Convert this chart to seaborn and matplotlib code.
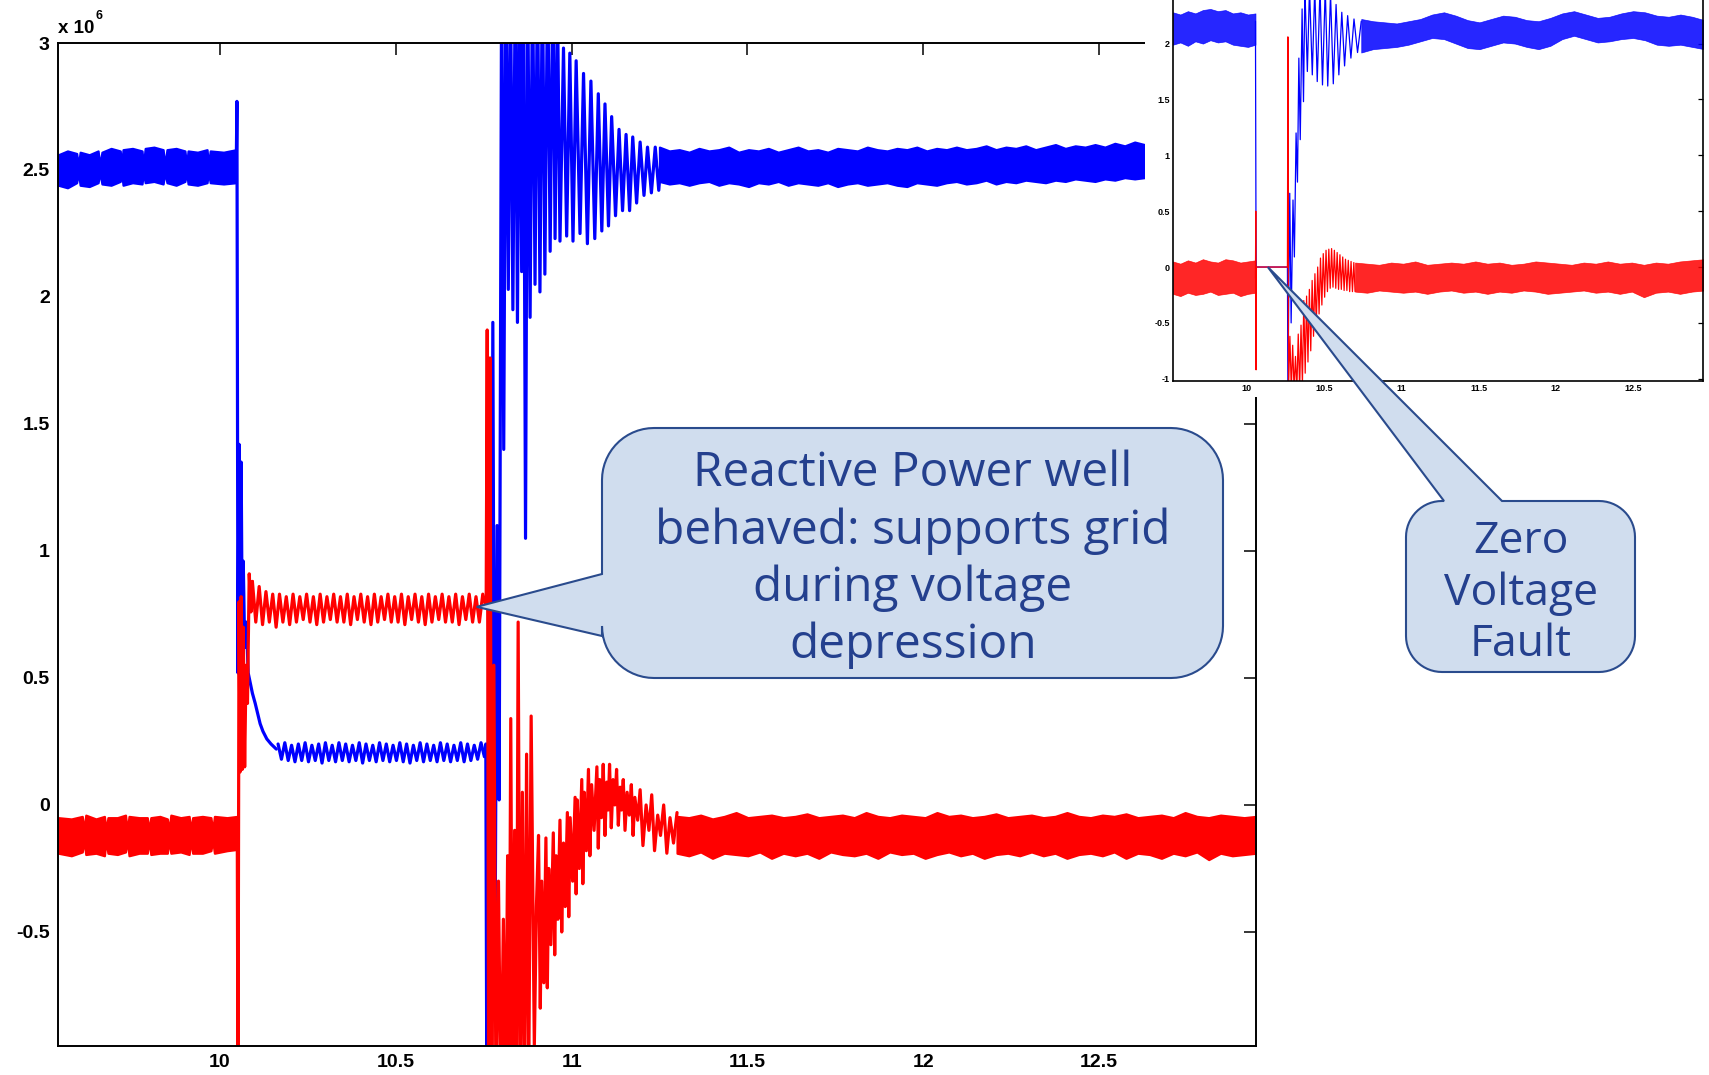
import matplotlib
matplotlib.use("Agg")
import matplotlib.pyplot as plt
from matplotlib.patches import Polygon, Rectangle
from matplotlib.ticker import FuncFormatter
import numpy as np
import seaborn as sns

# ---------------- main plot data (x 1e6, time in s) ----------------
BLUE_PRE_T = [9.540, 9.566, 9.592, 9.597, 9.602, 9.628, 9.653, 9.658, 9.664, 9.690,
              9.716, 9.720, 9.724, 9.751, 9.778, 9.782, 9.787, 9.812, 9.838, 9.843,
              9.849, 9.875, 9.900, 9.905, 9.909, 9.936, 9.963, 9.967, 9.972, 10.010, 10.046]
BLUE_PRE_HI = [2.56, 2.575, 2.565, 2.52, 2.57, 2.56, 2.575, 2.52, 2.57, 2.585,
               2.575, 2.52, 2.58, 2.585, 2.575, 2.52, 2.585, 2.59, 2.58, 2.52,
               2.58, 2.585, 2.575, 2.52, 2.575, 2.57, 2.58, 2.52, 2.575, 2.57, 2.58]
BLUE_PRE_LO = [2.44, 2.43, 2.45, 2.49, 2.44, 2.435, 2.45, 2.49, 2.445, 2.44,
               2.455, 2.49, 2.44, 2.45, 2.445, 2.49, 2.45, 2.455, 2.445, 2.49,
               2.45, 2.44, 2.455, 2.49, 2.445, 2.44, 2.45, 2.49, 2.45, 2.445, 2.45]

RED_PRE_T = [9.540, 9.577, 9.608, 9.613, 9.618, 9.647, 9.671, 9.676, 9.681, 9.708,
             9.731, 9.736, 9.741, 9.770, 9.793, 9.798, 9.803, 9.829, 9.850, 9.855,
             9.860, 9.888, 9.912, 9.917, 9.922, 9.950, 9.974, 9.979, 9.984, 10.020, 10.049]
RED_PRE_HI = [-0.05, -0.055, -0.045, -0.10, -0.04, -0.055, -0.045, -0.10, -0.05, -0.05,
              -0.04, -0.10, -0.045, -0.05, -0.05, -0.10, -0.05, -0.045, -0.055, -0.10,
              -0.04, -0.05, -0.045, -0.10, -0.05, -0.045, -0.05, -0.10, -0.045, -0.05, -0.045]
RED_PRE_LO = [-0.19, -0.20, -0.185, -0.14, -0.195, -0.19, -0.20, -0.14, -0.19, -0.195,
              -0.185, -0.14, -0.20, -0.19, -0.19, -0.14, -0.195, -0.19, -0.19, -0.14,
              -0.19, -0.185, -0.195, -0.14, -0.19, -0.19, -0.18, -0.14, -0.19, -0.18, -0.175]

# first fault (voltage dip)
BLUE_F1_T = [10.046, 10.048, 10.051, 10.054, 10.057, 10.060, 10.063, 10.066, 10.070, 10.075,
             10.080, 10.086, 10.092, 10.100, 10.107, 10.114, 10.122, 10.133, 10.145, 10.160]
BLUE_F1_V = [2.50, 2.77, 0.52, 1.42, 0.55, 1.35, 0.70, 0.96, 0.62, 0.72,
             0.52, 0.48, 0.44, 0.40, 0.36, 0.32, 0.29, 0.26, 0.24, 0.22]
RED_F1_T = [10.049, 10.051, 10.054, 10.057, 10.060, 10.063, 10.066, 10.070, 10.074,
            10.078, 10.083, 10.088, 10.092]
RED_F1_V = [-0.12, -1.20, 0.80, 0.13, 0.82, 0.14, 0.70, 0.15, 0.55, 0.40, 0.91, 0.76, 0.88]

# during the sag (sampled evenly between start and end)
BLUE_SAG_SPAN = (10.165, 10.752)
BLUE_SAG_V = [0.24, 0.18, 0.245, 0.175, 0.235, 0.17, 0.24, 0.175, 0.245, 0.17,
              0.235, 0.175, 0.24, 0.165, 0.245, 0.175, 0.235, 0.17, 0.245, 0.175,
              0.24, 0.17, 0.235, 0.175, 0.245, 0.165, 0.24, 0.175, 0.235, 0.17,
              0.245, 0.175, 0.24, 0.17, 0.235, 0.175, 0.245, 0.17, 0.24, 0.165,
              0.235, 0.175, 0.245, 0.17, 0.24, 0.175, 0.235, 0.17, 0.245, 0.175,
              0.24, 0.17, 0.235, 0.175, 0.245, 0.17, 0.24, 0.175, 0.235, 0.18,
              0.245, 0.19]
RED_SAG_SPAN = (10.092, 10.757)
RED_SAG_V = [0.88, 0.72, 0.86, 0.71, 0.84, 0.72, 0.83, 0.70, 0.83, 0.72,
             0.82, 0.71, 0.83, 0.72, 0.82, 0.73, 0.83, 0.72, 0.82, 0.71,
             0.83, 0.72, 0.82, 0.73, 0.83, 0.72, 0.82, 0.72, 0.83, 0.71,
             0.82, 0.73, 0.83, 0.72, 0.82, 0.71, 0.83, 0.72, 0.82, 0.73,
             0.83, 0.72, 0.82, 0.72, 0.83, 0.71, 0.82, 0.73, 0.83, 0.72,
             0.82, 0.71, 0.83, 0.72, 0.82, 0.73, 0.83, 0.72, 0.82, 0.72,
             0.83, 0.71, 0.82, 0.73, 0.83, 0.72, 0.82, 0.72, 0.83, 0.78]

# recovery transient
BLUE_TR_T = [10.752, 10.756, 10.759, 10.764, 10.769, 10.776, 10.782, 10.788, 10.794, 10.801,
             10.807, 10.813, 10.820, 10.826, 10.833, 10.840, 10.846, 10.852, 10.858, 10.863,
             10.869, 10.875, 10.882, 10.889, 10.896, 10.903, 10.910, 10.917, 10.924, 10.932,
             10.939, 10.947, 10.953, 10.960, 10.967, 10.977, 10.986, 10.995, 11.004, 11.013,
             11.024, 11.034, 11.045, 11.055, 11.066, 11.076, 11.086, 11.095, 11.105, 11.114,
             11.125, 11.135, 11.145, 11.155, 11.165, 11.174, 11.185, 11.195, 11.206, 11.216,
             11.227, 11.238, 11.248, 11.255]
BLUE_TR_V = [0.20, 0.24, -1.20, 0.60, -1.20, 1.90, -0.66, 1.10, 0.02, 3.30,
             1.40, 3.30, 2.03, 3.30, 1.95, 3.30, 1.90, 3.30, 2.10, 3.30,
             1.05, 3.30, 1.92, 3.30, 2.05, 3.30, 2.02, 3.30, 2.09, 3.30,
             2.18, 3.30, 2.23, 3.15, 2.22, 2.98, 2.24, 2.96, 2.22, 2.93,
             2.25, 2.88, 2.21, 2.85, 2.23, 2.80, 2.26, 2.76, 2.28, 2.71,
             2.32, 2.66, 2.34, 2.64, 2.34, 2.63, 2.37, 2.61, 2.40, 2.59,
             2.41, 2.59, 2.42, 2.55]
RED_TR_T = [10.757, 10.760, 10.764, 10.768, 10.773, 10.779, 10.785, 10.792, 10.799, 10.806,
            10.812, 10.818, 10.822, 10.827, 10.832, 10.838, 10.843, 10.848, 10.854, 10.860,
            10.866, 10.872, 10.878, 10.885,
            10.894, 10.900, 10.906, 10.911, 10.915, 10.921, 10.927, 10.931, 10.935, 10.941,
            10.948, 10.952, 10.956, 10.961, 10.967, 10.972, 10.977, 10.982, 10.988, 10.992,
            10.996, 11.003, 11.010, 11.013, 11.016, 11.022, 11.029, 11.032, 11.036, 11.042,
            11.048, 11.052, 11.057, 11.064, 11.072, 11.076, 11.080, 11.085, 11.090, 11.095,
            11.100, 11.104, 11.108, 11.113, 11.118, 11.123, 11.128, 11.133, 11.138, 11.142,
            11.147, 11.152, 11.158, 11.164, 11.170, 11.175, 11.180, 11.188, 11.195, 11.203,
            11.212, 11.220, 11.228, 11.236, 11.245, 11.253, 11.262, 11.271, 11.280, 11.290,
            11.300]
RED_TR_V = [0.78, 1.87, -1.20, 1.76, -1.20, 0.55, -1.20, -0.30, -1.20, -0.45,
            -1.20, -0.20, -1.20, 0.34, -1.20, -0.10, -1.20, 0.72, -1.20, 0.05,
            -1.20, 0.20, -1.10, 0.35,
            -0.95, -0.40, -0.12, -0.80, -0.30, -0.70, -0.13, -0.72, -0.25, -0.55,
            -0.11, -0.59, -0.20, -0.45, -0.06, -0.50, -0.15, -0.40, -0.03, -0.44,
            -0.05, -0.30, 0.03, -0.35, 0.02, -0.25, 0.10, -0.31, 0.05, -0.18,
            0.14, -0.20, 0.08, -0.10, 0.15, -0.17, 0.10, -0.05, 0.16, -0.12,
            0.09, -0.02, 0.16, -0.09, 0.10, 0.00, 0.14, -0.08, 0.07, -0.02,
            0.10, -0.10, 0.05, -0.04, 0.08, -0.12, 0.03, -0.06, 0.06, -0.16,
            0.00, -0.10, 0.04, -0.18, -0.04, -0.12, 0.00, -0.19, -0.05, -0.15,
            -0.03]

# steady state after recovery (envelopes sampled evenly)
BLUE_POST_SPAN = (11.25, 12.63)
BLUE_POST_HI = [2.590, 2.575, 2.580, 2.570, 2.585, 2.575, 2.580, 2.590, 2.570, 2.580,
                2.575, 2.585, 2.570, 2.580, 2.590, 2.575, 2.580, 2.570, 2.585, 2.580,
                2.575, 2.590, 2.580, 2.575, 2.585, 2.580, 2.590, 2.575, 2.585, 2.580,
                2.590, 2.580, 2.585, 2.595, 2.580, 2.590, 2.585, 2.595, 2.580, 2.590,
                2.600, 2.585, 2.595, 2.590, 2.600, 2.590, 2.605, 2.595, 2.610, 2.600]
BLUE_POST_LO = [2.455, 2.445, 2.450, 2.440, 2.450, 2.455, 2.440, 2.450, 2.445, 2.435,
                2.450, 2.445, 2.455, 2.440, 2.450, 2.445, 2.440, 2.450, 2.435, 2.445,
                2.450, 2.440, 2.445, 2.450, 2.440, 2.435, 2.450, 2.445, 2.440, 2.450,
                2.455, 2.445, 2.450, 2.460, 2.445, 2.455, 2.450, 2.460, 2.455, 2.450,
                2.460, 2.455, 2.465, 2.460, 2.455, 2.465, 2.460, 2.470, 2.465, 2.470]
RED_POST_SPAN = (11.30, 12.947)
RED_POST_HI = [-0.045, -0.05, -0.04, -0.055, -0.045, -0.03, -0.05, -0.045, -0.04, -0.05,
               -0.045, -0.035, -0.05, -0.045, -0.04, -0.05, -0.03, -0.045, -0.05, -0.04,
               -0.045, -0.05, -0.03, -0.045, -0.04, -0.05, -0.045, -0.035, -0.05, -0.045,
               -0.04, -0.05, -0.045, -0.03, -0.045, -0.05, -0.04, -0.045, -0.035, -0.05,
               -0.045, -0.04, -0.05, -0.03, -0.045, -0.05, -0.04, -0.045, -0.05, -0.045]
RED_POST_LO = [-0.19, -0.20, -0.185, -0.21, -0.19, -0.195, -0.20, -0.185, -0.21, -0.19,
               -0.20, -0.19, -0.21, -0.185, -0.195, -0.20, -0.19, -0.21, -0.185, -0.195,
               -0.19, -0.21, -0.195, -0.185, -0.20, -0.19, -0.21, -0.195, -0.19, -0.20,
               -0.185, -0.20, -0.19, -0.21, -0.195, -0.19, -0.20, -0.185, -0.21, -0.19,
               -0.195, -0.21, -0.19, -0.20, -0.185, -0.215, -0.19, -0.20, -0.195, -0.19]

MAIN_XTICKS = [10, 10.5, 11, 11.5, 12, 12.5]
MAIN_YTICKS = [-0.5, 0, 0.5, 1, 1.5, 2, 2.5, 3]

# ---------------- inset data (zero voltage fault) ----------------
IN_PRE_SPAN = (9.52, 10.055)
IN_BLUE_PRE_HI = [2.28, 2.26, 2.29, 2.27, 2.30, 2.31, 2.29, 2.30, 2.27, 2.28, 2.26, 2.27]
IN_BLUE_PRE_LO = [1.99, 2.01, 1.98, 2.02, 2.00, 2.03, 2.01, 2.02, 1.99, 1.98, 1.97, 1.99]
IN_RED_PRE_HI = [0.05, 0.03, 0.06, 0.04, 0.07, 0.05, 0.04, 0.07, 0.06, 0.04, 0.05, 0.06]
IN_RED_PRE_LO = [-0.24, -0.26, -0.23, -0.25, -0.24, -0.22, -0.25, -0.24, -0.23, -0.26, -0.24, -0.23]

IN_BLUE_TR_T = [10.055, 10.058, 10.060, 10.262, 10.265, 10.277, 10.286, 10.298, 10.307, 10.318,
                10.327, 10.336, 10.345, 10.357, 10.366, 10.375, 10.391, 10.405, 10.423, 10.439,
                10.455, 10.473, 10.489, 10.507, 10.523, 10.541, 10.559, 10.577, 10.595, 10.614,
                10.632, 10.652, 10.673, 10.693, 10.716, 10.740]
IN_BLUE_TR_V = [2.20, 0.50, 0.00, 0.00, -1.10, 0.66, -0.50, 0.60, 0.09, 1.20,
                0.76, 1.87, 1.14, 2.31, 1.48, 2.50, 1.75, 2.50, 1.72, 2.50,
                1.66, 2.50, 1.63, 2.50, 1.62, 2.45, 1.64, 2.35, 1.72, 2.28,
                1.80, 2.25, 1.87, 2.22, 1.92, 2.20]
IN_RED_TR_T = [10.055, 10.057, 10.059, 10.061, 10.262, 10.265, 10.269, 10.278, 10.287, 10.296,
               10.305, 10.314, 10.323, 10.332, 10.341, 10.350, 10.359, 10.368, 10.377, 10.386,
               10.395, 10.404, 10.413, 10.422, 10.431, 10.440, 10.449, 10.458, 10.467, 10.476,
               10.485, 10.494, 10.503, 10.512, 10.521, 10.530, 10.539, 10.548, 10.557, 10.566,
               10.575, 10.584, 10.593, 10.602, 10.611, 10.620, 10.629, 10.638, 10.647, 10.656,
               10.665, 10.674, 10.683, 10.692, 10.700]
IN_RED_TR_V = [-0.10, 0.50, -0.92, 0.00, 0.00, 2.06, -1.10, -0.62, -1.10, -0.70,
               -1.10, -0.80, -1.10, -0.60, -1.10, -0.52, -1.05, -0.30, -0.95, -0.26,
               -0.85, -0.20, -0.75, -0.12, -0.62, -0.06, -0.52, 0.00, -0.42, 0.08,
               -0.34, 0.12, -0.27, 0.15, -0.22, 0.16, -0.19, 0.165, -0.18, 0.15,
               -0.19, 0.13, -0.20, 0.11, -0.20, 0.09, -0.21, 0.07, -0.21, 0.06,
               -0.22, 0.05, -0.22, 0.04, -0.22]

IN_BLUE_POST_SPAN = (10.74, 12.96)
IN_BLUE_POST_HI = [2.22, 2.20, 2.19, 2.18, 2.20, 2.22, 2.26, 2.28, 2.25, 2.21,
                   2.19, 2.22, 2.25, 2.24, 2.21, 2.20, 2.23, 2.27, 2.29, 2.26,
                   2.23, 2.24, 2.27, 2.29, 2.28, 2.25, 2.24, 2.26, 2.24, 2.21]
IN_BLUE_POST_LO = [1.92, 1.95, 1.96, 1.97, 1.99, 2.02, 2.05, 2.04, 2.00, 1.96,
                   1.95, 1.98, 2.01, 2.00, 1.97, 1.95, 1.98, 2.04, 2.07, 2.04,
                   2.01, 2.02, 2.04, 2.05, 2.03, 1.99, 1.98, 1.99, 1.97, 1.95]
IN_RED_POST_SPAN = (10.70, 12.96)
IN_RED_POST_HI = [0.04, 0.03, 0.02, 0.04, 0.03, 0.05, 0.02, 0.03, 0.04, 0.03,
                  0.05, 0.03, 0.04, 0.02, 0.03, 0.05, 0.04, 0.03, 0.02, 0.04,
                  0.03, 0.05, 0.03, 0.04, 0.02, 0.04, 0.03, 0.05, 0.06, 0.07]
IN_RED_POST_LO = [-0.22, -0.23, -0.21, -0.22, -0.23, -0.22, -0.24, -0.22, -0.21, -0.23,
                  -0.22, -0.24, -0.22, -0.23, -0.21, -0.22, -0.24, -0.23, -0.22, -0.21,
                  -0.23, -0.22, -0.24, -0.22, -0.27, -0.23, -0.22, -0.24, -0.22, -0.21]

IN_XTICKS = [10, 10.5, 11, 11.5, 12, 12.5]
IN_YTICKS = [-1, -0.5, 0, 0.5, 1, 1.5, 2]

CALLOUT_MAIN = ["Reactive Power well", "behaved: supports grid", "during voltage", "depression"]
CALLOUT_INSET = ["Zero", "Voltage", "Fault"]

BLUE = "#0000ff"
RED = "#ff0000"
FILL = "#d0ddee"
EDGE = "#2a4b8d"
TEXT = "#24408e"

W, H = 1709, 1075

sns.set_theme(style="white")
plt.rcParams["font.family"] = ["Liberation Sans", "DejaVu Sans"]
plt.rcParams["axes.unicode_minus"] = False


def trace(axis, t, v, color, lw):
    sns.lineplot(x=np.asarray(t), y=np.asarray(v), ax=axis, color=color, linewidth=lw,
                 sort=False, estimator=None, legend=False)


def sampled(axis, span, v, color, lw):
    trace(axis, np.linspace(span[0], span[1], len(v)), v, color, lw)


def band(axis, t, lo, hi, color, lw, alpha=1.0):
    axis.fill_between(t, lo, hi, facecolor=color, edgecolor=color, linewidth=lw, alpha=alpha)


def sampled_band(axis, span, lo, hi, color, lw, alpha=1.0):
    band(axis, np.linspace(span[0], span[1], len(hi)), lo, hi, color, lw, alpha)


def fmt(v, _):
    return f"{v:g}"


fig = plt.figure(figsize=(W / 100, H / 100), dpi=100)

# ---------- main axes ----------
ax = fig.add_axes([58 / W, 1 - 1046 / H, (1256 - 58) / W, (1046 - 43) / H], zorder=0)
LW = 2.3
band(ax, BLUE_PRE_T, BLUE_PRE_LO, BLUE_PRE_HI, BLUE, 1.6)
band(ax, RED_PRE_T, RED_PRE_LO, RED_PRE_HI, RED, 1.6)
trace(ax, BLUE_F1_T, BLUE_F1_V, BLUE, LW)
sampled(ax, BLUE_SAG_SPAN, BLUE_SAG_V, BLUE, LW)
sampled_band(ax, BLUE_POST_SPAN, BLUE_POST_LO, BLUE_POST_HI, BLUE, 1.6)
trace(ax, BLUE_TR_T, BLUE_TR_V, BLUE, LW)
trace(ax, RED_F1_T, RED_F1_V, RED, LW)
sampled(ax, RED_SAG_SPAN, RED_SAG_V, RED, LW)
sampled_band(ax, RED_POST_SPAN, RED_POST_LO, RED_POST_HI, RED, 1.6)
trace(ax, RED_TR_T, RED_TR_V, RED, LW)

ax.set_xlim(9.539, 12.947)
ax.set_ylim(-0.949, 3.0)
ax.set_xticks(MAIN_XTICKS)
ax.set_yticks(MAIN_YTICKS)
ax.xaxis.set_major_formatter(FuncFormatter(fmt))
ax.yaxis.set_major_formatter(FuncFormatter(fmt))
ax.tick_params(direction="in", length=8.5, width=1.1, top=True, right=True,
               labelsize=14, pad=6, colors="black")
ax.set_xlabel("")
ax.set_ylabel("")
for lbl in ax.get_xticklabels() + ax.get_yticklabels():
    lbl.set_fontweight("bold")
for sp in ax.spines.values():
    sp.set_visible(True)
    sp.set_color("black")
    sp.set_linewidth(1.4)

# white patch of the pasted inset screenshot
fig.add_artist(Rectangle((1145 / W, 1 - 397 / H), (W - 1145) / W, 397 / H,
                         transform=fig.transFigure, facecolor="white",
                         edgecolor="none", zorder=1))

# ---------- inset axes ----------
ins = fig.add_axes([1173 / W, 1 - 381 / H, (1703 - 1173) / W, 381 / H], zorder=2)
ILW = 0.9
sampled_band(ins, IN_PRE_SPAN, IN_BLUE_PRE_LO, IN_BLUE_PRE_HI, BLUE, 0.5, 0.85)
sampled_band(ins, IN_PRE_SPAN, IN_RED_PRE_LO, IN_RED_PRE_HI, RED, 0.5, 0.85)
sampled_band(ins, IN_BLUE_POST_SPAN, IN_BLUE_POST_LO, IN_BLUE_POST_HI, BLUE, 0.5, 0.85)
sampled_band(ins, IN_RED_POST_SPAN, IN_RED_POST_LO, IN_RED_POST_HI, RED, 0.5, 0.85)
trace(ins, IN_BLUE_TR_T, IN_BLUE_TR_V, BLUE, ILW)
trace(ins, IN_RED_TR_T, IN_RED_TR_V, RED, ILW)
ins.set_xlim(9.521, 12.953)
ins.set_ylim(-1.02, 2.39)
ins.set_xticks(IN_XTICKS)
ins.set_yticks(IN_YTICKS)
ins.xaxis.set_major_formatter(FuncFormatter(fmt))
ins.yaxis.set_major_formatter(FuncFormatter(fmt))
ins.tick_params(direction="in", length=3.5, width=0.9, right=True, top=False,
                labelsize=6.5, pad=2.5, colors="black")
ins.set_xlabel("")
ins.set_ylabel("")
for lbl in ins.get_xticklabels() + ins.get_yticklabels():
    lbl.set_fontweight("bold")
for name, sp in ins.spines.items():
    sp.set_visible(name != "top")
    sp.set_color("black")
    sp.set_linewidth(1.2)

# ---------- overlay for callouts (pixel coordinates, y down) ----------
ov = fig.add_axes([0, 0, 1, 1], zorder=3)
ov.set_xlim(0, W)
ov.set_ylim(H, 0)
ov.axis("off")
ov.patch.set_alpha(0)


def to_px(axis, x, y):
    px, py = axis.transData.transform((x, y))
    return px, H - py


def callout_poly(x0, y0, x1, y1, r, side, b1, b2, tip):
    def arc(cx, cy, a0, a1):
        a = np.radians(np.linspace(a0, a1, 16))
        return list(zip(cx + r * np.cos(a), cy + r * np.sin(a)))
    pts = [(x0 + r, y0)]
    if side == "top":
        pts += [(b1, y0), tip, (b2, y0)]
    pts += arc(x1 - r, y0 + r, -90, 0)
    pts += arc(x1 - r, y1 - r, 0, 90)
    pts += arc(x0 + r, y1 - r, 90, 180)
    if side == "left":
        pts += [(x0, b1), tip, (x0, b2)]
    pts += arc(x0 + r, y0 + r, 180, 270)
    return pts


tip1 = to_px(ax, 10.73, 0.78)
ov.add_patch(Polygon(callout_poly(602, 428, 1223, 678, 52, "left", 636, 574, tip1),
                     closed=True, facecolor=FILL, edgecolor=EDGE, linewidth=1.5))
for line, y in zip(CALLOUT_MAIN, [486, 544, 601, 658]):
    ov.text(913, y, line, ha="center", va="baseline", fontsize=34.5, color=TEXT,
            family=["Open Sans", "DejaVu Sans"])

tip2 = to_px(ins, 10.135, 0.0)
ov.add_patch(Polygon(callout_poly(1406, 501, 1635, 672, 36, "top", 1444, 1502, tip2),
                     closed=True, facecolor=FILL, edgecolor=EDGE, linewidth=1.5))
for line, y in zip(CALLOUT_INSET, [553, 605, 656]):
    ov.text(1521, y, line, ha="center", va="baseline", fontsize=32, color=TEXT,
            family=["Open Sans", "DejaVu Sans"])

# exponent label of the main y axis
ov.text(58, 33, "x 10", ha="left", va="baseline", fontsize=13.5, fontweight="bold", color="black")
ov.text(96, 19, "6", ha="left", va="baseline", fontsize=9, fontweight="bold", color="black")

fig.savefig("out.png", dpi=100)
